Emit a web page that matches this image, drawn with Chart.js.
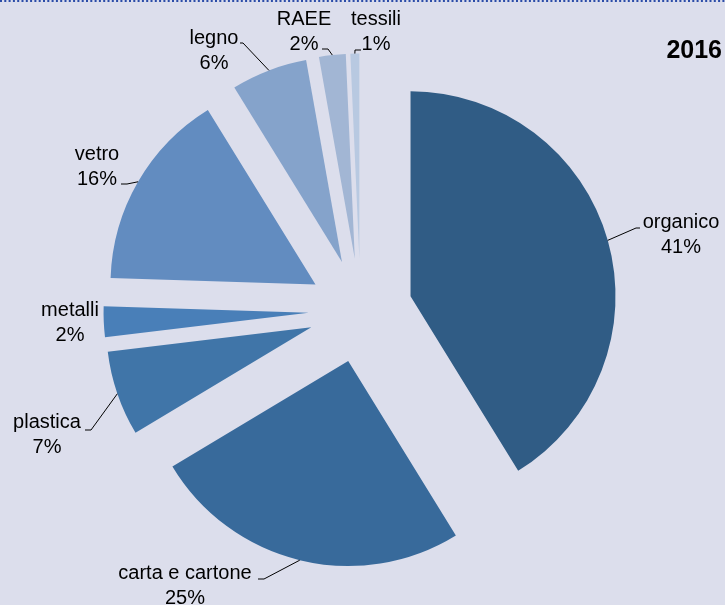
<!DOCTYPE html>
<html>
<head>
<meta charset="utf-8">
<script src="https://cdn.jsdelivr.net/npm/chart.js@4.4.1/dist/chart.umd.min.js"></script>
<style>
  html, body { margin: 0; padding: 0; background: #dcdeec; }
  #wrap { width: 725px; height: 605px; }
</style>
</head>
<body>
<div id="wrap"><canvas id="pieChart"></canvas></div>
<script>
// ===== dati =====
const categories = ['organico', 'carta e cartone', 'plastica', 'metalli', 'vetro', 'legno', 'RAEE', 'tessili'];
const shares = [41.2, 25.2, 6.7, 2.4, 15.7, 6.0, 2.1, 0.7];
const yearLabel = '2016';

const sliceColors = ['#305c85', '#386a9b', '#4075a8', '#497fb8', '#628cc0', '#85a3cb', '#a2b6d4', '#b8c9e1'];

// etichette: centro x e baseline della prima riga
const labelPos = [[681, 228], [185, 579], [47, 428], [70, 316], [97, 160], [214, 44], [304, 25], [376, 25]];
// linee guida: punti di partenza vicino al testo (l'ultimo punto è sul bordo della fetta)
const leaderStart = [
    [[640, 228], [636, 228]],
    [[258, 579], [264, 579]],
    [[85, 430], [91, 430]],
    null,
    [[121, 184], [127, 184]],
    [[240, 43], [243, 43]],
    [[322, 49], [328, 49]],
    [[361, 50], [355, 50]]
];

const total = shares.reduce((a, b) => a + b, 0);
const EXPLODE = 52;   // spostamento delle fette (esplose) in px
const FONT = '"Liberation Sans", Arial, sans-serif';

const decor = {
    id: 'decor',
    beforeDraw(chart) {
        const ctx = chart.ctx;
        ctx.save();
        ctx.fillStyle = '#dcdeec';
        ctx.fillRect(0, 0, chart.width, chart.height);
        ctx.strokeStyle = '#2b4ca8';
        ctx.lineWidth = 2;
        ctx.setLineDash([2, 2.3]);
        ctx.beginPath();
        ctx.moveTo(0, 1);
        ctx.lineTo(chart.width, 1);
        ctx.stroke();
        ctx.restore();
    },
    // disegna ogni fetta spostata lungo la sua bisettrice
    beforeDatasetDraw(chart, args) {
        const ctx = chart.ctx;
        args.meta.data.forEach(arc => {
            const mid = (arc.startAngle + arc.endAngle) / 2;
            ctx.save();
            ctx.translate(Math.cos(mid) * EXPLODE, Math.sin(mid) * EXPLODE);
            arc.draw(ctx, chart.chartArea);
            ctx.restore();
        });
        return false;
    },
    afterDatasetsDraw(chart) {
        const ctx = chart.ctx;
        const meta = chart.getDatasetMeta(0);
        ctx.save();
        ctx.strokeStyle = '#000';
        ctx.lineWidth = 1;
        meta.data.forEach((arc, i) => {
            const pts = leaderStart[i];
            if (!pts) return;
            const mid = (arc.startAngle + arc.endAngle) / 2;
            const r = arc.outerRadius + EXPLODE;
            ctx.beginPath();
            ctx.moveTo(pts[0][0], pts[0][1]);
            for (let k = 1; k < pts.length; k++) ctx.lineTo(pts[k][0], pts[k][1]);
            ctx.lineTo(arc.x + Math.cos(mid) * r, arc.y + Math.sin(mid) * r);
            ctx.stroke();
        });

        ctx.fillStyle = '#000';
        ctx.textAlign = 'center';
        ctx.textBaseline = 'alphabetic';
        ctx.font = '20px ' + FONT;
        categories.forEach((name, i) => {
            const [x, y] = labelPos[i];
            ctx.fillText(name, x, y);
            ctx.fillText(Math.round(shares[i] / total * 100) + '%', x, y + 24.5);
        });

        ctx.font = 'bold 25px ' + FONT;
        ctx.textAlign = 'right';
        ctx.fillText(yearLabel, 722, 58);
        ctx.restore();
    }
};

new Chart(document.getElementById('pieChart'), {
    type: 'pie',
    data: {
        labels: categories,
        datasets: [{
            data: shares,
            backgroundColor: sliceColors,
            borderWidth: 0
        }]
    },
    options: {
        responsive: true,
        maintainAspectRatio: false,
        animation: false,
        radius: 205,
        layout: { padding: { left: 1, right: 5, top: 16, bottom: 0 } },
        plugins: {
            legend: { display: false },
            tooltip: { enabled: false }
        }
    },
    plugins: [decor]
});
</script>
</body>
</html>
